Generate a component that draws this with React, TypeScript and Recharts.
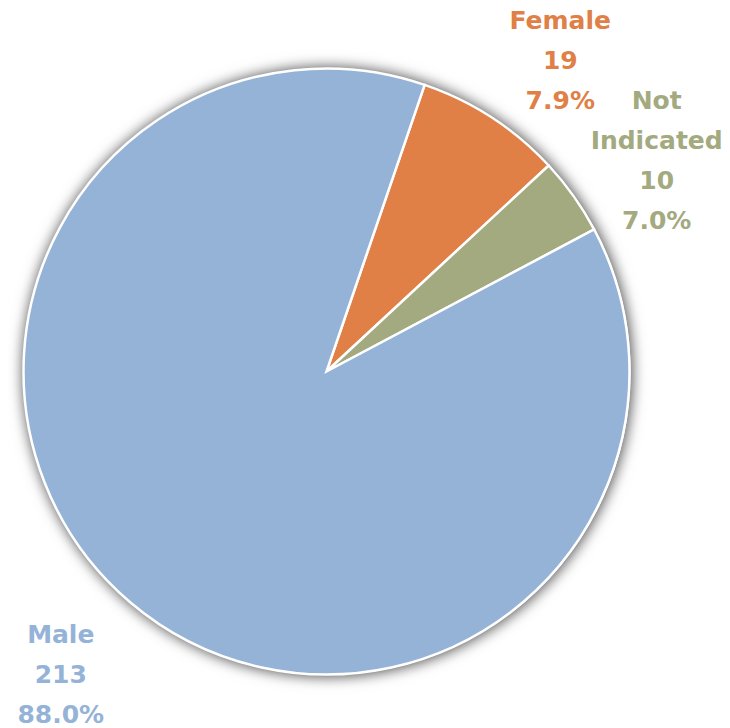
import React from "react";
import { PieChart, Pie, Cell } from "recharts";

// Data (clockwise from the Female slice)
const categories = ["Female", "Not Indicated", "Male"];
const counts = [19, 10, 213];
const percentLabels = ["7.9%", "7.0%", "88.0%"];
const nameLines = [["Female"], ["Not", "Indicated"], ["Male"]];

// Styling / layout (kept separate from data)
const colors = ["#E07F46", "#A3AA7F", "#95B3D7"];
const labelNudges = [
  [19, 18],
  [9, 16],
  [-10, 2],
];
const START = 90 - 18.9;
const RADIAN = Math.PI / 180;

const data = categories.map((name, i) => ({ name, value: counts[i] }));
const total = counts.reduce((a, b) => a + b, 0);
const backgroundData = [{ name: "all", value: total }];

const renderLabel = (props: any) => {
  const { cx, cy, midAngle, outerRadius, index } = props;
  const r = outerRadius + 91;
  const x = cx + r * Math.cos(-midAngle * RADIAN) + labelNudges[index][0];
  const y = cy + r * Math.sin(-midAngle * RADIAN) + labelNudges[index][1];
  const lines = [...nameLines[index], String(counts[index]), percentLabels[index]];
  const step = 40;
  const first = y - ((lines.length - 1) / 2) * step + 10;
  return (
    <text
      key={`lbl-${index}`}
      x={x}
      y={first}
      textAnchor="middle"
      fill={colors[index]}
      fontFamily="'DejaVu Sans', sans-serif"
      fontWeight={700}
      fontSize={25}
    >
      {lines.map((l, i) => (
        <tspan key={i} x={x} y={first + i * step}>
          {l}
        </tspan>
      ))}
    </text>
  );
};

export default function App() {
  return (
    <div style={{ width: 722, height: 720 }}>
      <style>{`.shadow-pie { filter: drop-shadow(0px 0px 7px rgba(0,0,0,0.45)); } .recharts-surface { overflow: visible; }`}</style>
      <PieChart width={722} height={720} margin={{ top: 0, right: 0, bottom: 0, left: 0 }}>
        <Pie
          className="shadow-pie"
          data={backgroundData}
          dataKey="value"
          cx={318.5}
          cy={363.5}
          outerRadius={303}
          startAngle={START}
          endAngle={START - 360}
          stroke="none"
          fill="#ffffff"
          isAnimationActive={false}
          label={false}
          labelLine={false}
        />
        <Pie
          data={data}
          dataKey="value"
          nameKey="name"
          cx={318.5}
          cy={363.5}
          outerRadius={303}
          startAngle={START}
          endAngle={START - 360}
          stroke="#ffffff"
          strokeWidth={2.5}
          isAnimationActive={false}
          label={renderLabel}
          labelLine={false}
        >
          {data.map((d, i) => (
            <Cell key={d.name} fill={colors[i]} />
          ))}
        </Pie>
      </PieChart>
    </div>
  );
}
